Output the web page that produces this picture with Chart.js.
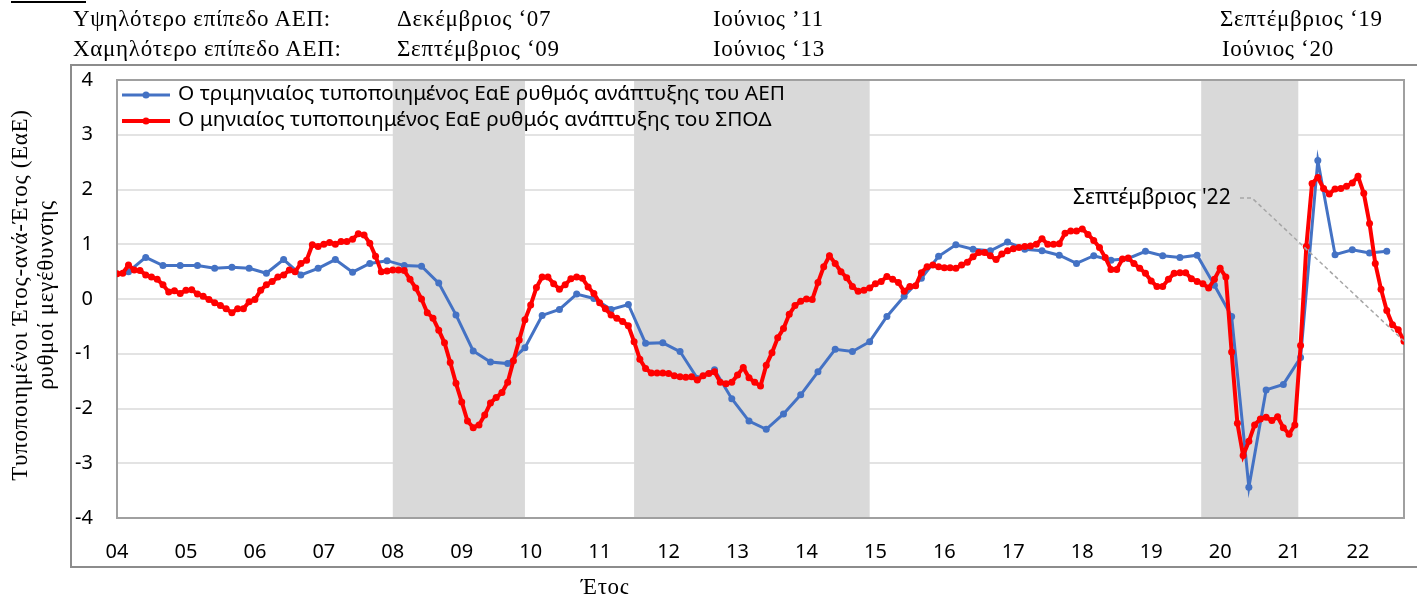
<!DOCTYPE html>
<html lang="el">
<head>
<meta charset="utf-8">
<title>ΑΕΠ και ΣΠΟΔ</title>
<script src="https://cdn.jsdelivr.net/npm/chart.js@4.4.1/dist/chart.umd.min.js"></script>
<style>
html, body { margin: 0; padding: 0; background: #fff; }
#wrap { position: relative; width: 1417px; height: 594px; overflow: hidden; }
#chart { position: absolute; left: 0; top: 0; }
.serif { position: absolute; font-family: "Liberation Serif", "DejaVu Serif", serif; font-size: 23px; letter-spacing: 0.7px; color: #000; white-space: nowrap; line-height: 1; }
.sans { position: absolute; font-family: "Noto Sans", sans-serif; font-size: 21px; color: #000; white-space: nowrap; line-height: 1; }
#ytitle { left: 33px; top: 295px; width: 480px; text-align: center; line-height: 26px; transform: translate(-50%, -50%) rotate(-90deg); }
#topline { position: absolute; left: 11px; top: 1px; width: 75px; height: 2px; background: #000; }
</style>
</head>
<body>
<div id="wrap">
  <canvas id="chart" width="1417" height="594"></canvas>
  <div id="topline"></div>
  <div class="serif" style="left:73px; top:7px;">Υψηλότερο επίπεδο ΑΕΠ:</div>
  <div class="serif" style="left:397px; top:7px;">Δεκέμβριος ‘07</div>
  <div class="serif" style="left:713px; top:7px;">Ιούνιος ’11</div>
  <div class="serif" style="left:1220px; top:7px;">Σεπτέμβριος ‘19</div>
  <div class="serif" style="left:73px; top:37px;">Χαμηλότερο επίπεδο ΑΕΠ:</div>
  <div class="serif" style="left:397px; top:37px;">Σεπτέμβριος ‘09</div>
  <div class="serif" style="left:713px; top:37px;">Ιούνιος ‘13</div>
  <div class="serif" style="left:1222px; top:37px;">Ιούνιος ‘20</div>
  <div class="serif" id="ytitle">Τυποποιημένοι Έτος-ανά-Έτος (ΕαΕ)<br>ρυθμοί μεγέθυνσης</div>
  <div class="serif" style="left:581px; top:575px;">Έτος</div>
  <div class="sans" style="left:1073px; top:186px;">Σεπτέμβριος '22</div>
</div>
<script>
"use strict";

// Year labels on the x axis (one tick every 12 months, starting Jan 2004)
const yearLabels = ["04", "05", "06", "07", "08", "09", "10", "11", "12", "13",
                    "14", "15", "16", "17", "18", "19", "20", "21", "22"];

// Quarterly standardised YoY GDP growth, Mar 2004 .. Jun 2022
const quarterlyGdp = [
    0.50, 0.76, 0.61, 0.61,
    0.61, 0.56, 0.58, 0.56,
    0.47, 0.72, 0.44, 0.56,
    0.72, 0.49, 0.65, 0.70,
    0.61, 0.60, 0.29, -0.29,
    -0.95, -1.15, -1.18, -0.89,
    -0.30, -0.19, 0.09, 0.01,
    -0.19, -0.10, -0.81, -0.80,
    -0.96, -1.45, -1.29, -1.82,
    -2.23, -2.38, -2.10, -1.75,
    -1.33, -0.92, -0.96, -0.78,
    -0.32, 0.05, 0.38, 0.78,
    0.99, 0.91, 0.88, 1.04,
    0.91, 0.88, 0.80, 0.65,
    0.79, 0.71, 0.74, 0.87,
    0.79, 0.76, 0.80, 0.25,
    -0.32, -3.44, -1.66, -1.56,
    -1.07, 2.53, 0.81, 0.90,
    0.84, 0.87
];

// Monthly standardised YoY growth of the composite index (ΣΠΟΔ), Jan 2004 .. Sep 2022
const monthlySpod = [
    0.46, 0.47, 0.62, 0.53, 0.52, 0.44, 0.40, 0.36, 0.26, 0.13, 0.15, 0.10,
    0.16, 0.17, 0.09, 0.05, -0.01, -0.07, -0.12, -0.18, -0.25, -0.18, -0.18, -0.05,
    -0.01, 0.16, 0.26, 0.32, 0.40, 0.44, 0.53, 0.50, 0.65, 0.71, 0.99, 0.96,
    1.00, 1.03, 1.00, 1.05, 1.05, 1.09, 1.19, 1.17, 1.02, 0.78, 0.50, 0.51,
    0.53, 0.53, 0.52, 0.36, 0.20, 0.00, -0.25, -0.35, -0.57, -0.80, -1.16, -1.54,
    -1.88, -2.23, -2.35, -2.30, -2.12, -1.90, -1.80, -1.71, -1.52, -1.13, -0.75, -0.38,
    -0.11, 0.21, 0.40, 0.40, 0.28, 0.18, 0.26, 0.37, 0.40, 0.38, 0.22, 0.10,
    -0.07, -0.18, -0.29, -0.35, -0.41, -0.49, -0.78, -1.10, -1.27, -1.35, -1.35, -1.35,
    -1.36, -1.40, -1.42, -1.43, -1.42, -1.48, -1.40, -1.36, -1.33, -1.52, -1.55, -1.52,
    -1.39, -1.25, -1.44, -1.52, -1.59, -1.21, -0.98, -0.71, -0.54, -0.28, -0.12, -0.04,
    0.00, -0.01, 0.30, 0.59, 0.79, 0.65, 0.50, 0.39, 0.23, 0.14, 0.16, 0.20,
    0.28, 0.32, 0.41, 0.36, 0.30, 0.14, 0.23, 0.24, 0.48, 0.59, 0.62, 0.59,
    0.57, 0.57, 0.56, 0.62, 0.67, 0.77, 0.85, 0.85, 0.79, 0.72, 0.82, 0.88,
    0.92, 0.94, 0.96, 0.97, 1.00, 1.10, 1.00, 1.00, 1.01, 1.20, 1.24, 1.24,
    1.28, 1.18, 1.07, 0.94, 0.76, 0.54, 0.54, 0.73, 0.75, 0.65, 0.56, 0.47,
    0.33, 0.23, 0.23, 0.36, 0.47, 0.48, 0.48, 0.37, 0.32, 0.28, 0.20, 0.36,
    0.56, 0.40, -0.97, -2.27, -2.86, -2.60, -2.30, -2.19, -2.16, -2.22, -2.15, -2.35,
    -2.47, -2.30, -0.85, 0.96, 2.11, 2.22, 2.02, 1.92, 2.01, 2.02, 2.06, 2.12,
    2.24, 1.93, 1.38, 0.65, 0.18, -0.21, -0.47, -0.56, -0.77
];

// Recession periods (shaded), in months since Jan 2004
const recessions = [[48, 71], [90, 131], [188.7, 205.6]];

const seriesNames = [
    "Ο τριμηνιαίος τυποποιημένος ΕαΕ ρυθμός ανάπτυξης του ΑΕΠ",
    "Ο μηνιαίος τυποποιημένος ΕαΕ ρυθμός ανάπτυξης του ΣΠΟΔ"
];

const BLUE = "#4472C4";
const RED = "#FF0000";
const SANS = '"Noto Sans", sans-serif';

// shading, frame, legend and the leader line of the annotation
const decorations = {
    id: "decorations",
    beforeDraw(chart) {
        const ctx = chart.ctx;
        ctx.save();
        ctx.strokeStyle = "#8c8c8c";
        ctx.lineWidth = 2;
        ctx.strokeRect(71, 65, 1400, 502);
        ctx.restore();
    },
    beforeDatasetsDraw(chart) {
        const { ctx, chartArea: a, scales: { x } } = chart;
        ctx.save();
        ctx.fillStyle = "#d9d9d9";
        recessions.forEach(([s, e]) => {
            const x0 = x.getPixelForValue(s);
            const x1 = x.getPixelForValue(e);
            ctx.fillRect(x0, a.top, x1 - x0, a.bottom - a.top);
        });
        ctx.strokeStyle = "#a0a0a0";
        ctx.lineWidth = 2;
        ctx.strokeRect(a.left, a.top, a.right - a.left, a.bottom - a.top);
        ctx.restore();
    },
    afterDatasetsDraw(chart) {
        const { ctx, scales: { x, y } } = chart;
        ctx.save();

        // leader line "Σεπτέμβριος '22" -> last monthly point
        const last = monthlySpod.length - 1;
        ctx.strokeStyle = "#a6a6a6";
        ctx.lineWidth = 1.5;
        ctx.setLineDash([4, 3]);
        ctx.beginPath();
        ctx.moveTo(1240, 198);
        ctx.lineTo(1252, 198);
        ctx.lineTo(x.getPixelForValue(last), y.getPixelForValue(monthlySpod[last]));
        ctx.stroke();
        ctx.setLineDash([]);

        // legend (line + marker like the spreadsheet legend)
        chart.data.datasets.forEach((ds, i) => {
            const ly = 95 + i * 26;
            ctx.strokeStyle = ds.borderColor;
            ctx.lineWidth = ds.borderWidth;
            ctx.beginPath();
            ctx.moveTo(122, ly);
            ctx.lineTo(170, ly);
            ctx.stroke();
            ctx.fillStyle = ds.borderColor;
            ctx.beginPath();
            ctx.arc(146, ly, ds.pointRadius, 0, Math.PI * 2);
            ctx.fill();
            ctx.fillStyle = "#000";
            ctx.font = "20.8px " + SANS;
            ctx.textBaseline = "middle";
            ctx.fillText(ds.label, 178, ly - 1);
        });
        ctx.restore();
    }
};

const ctx = document.getElementById("chart").getContext("2d");
new Chart(ctx, {
    type: "line",
    data: {
        datasets: [
            {
                label: seriesNames[0],
                data: quarterlyGdp.map((v, i) => ({ x: 2 + 3 * i, y: v })),
                borderColor: BLUE, backgroundColor: BLUE,
                borderWidth: 3, pointRadius: 3.5, pointBorderWidth: 0,
                order: 1
            },
            {
                label: seriesNames[1],
                data: monthlySpod.map((v, i) => ({ x: i, y: v })),
                borderColor: RED, backgroundColor: RED,
                borderWidth: 4, pointRadius: 3.5, pointBorderWidth: 0,
                order: 0
            }
        ]
    },
    options: {
        responsive: false,
        animation: false,
        layout: { padding: { left: 0, top: 80, right: 13, bottom: 0 } },
        elements: { line: { tension: 0 } },
        plugins: { legend: { display: false }, tooltip: { enabled: false } },
        scales: {
            x: {
                type: "linear",
                min: 0,
                max: monthlySpod.length - 1,
                afterBuildTicks: (s) => { s.ticks = yearLabels.map((_, i) => ({ value: i * 12 })); },
                afterFit: (s) => { s.height = 76; },
                grid: { display: false, drawTicks: false },
                border: { display: false },
                ticks: {
                    autoSkip: false, maxRotation: 0, padding: 22, color: "#000",
                    font: { family: SANS, size: 20 },
                    callback: (v) => yearLabels[Math.round(v / 12)]
                }
            },
            y: {
                min: -4,
                max: 4,
                afterFit: (s) => { s.width = 117; },
                grid: { color: "#e3e3e3", lineWidth: 2, drawTicks: false },
                border: { display: false },
                ticks: {
                    stepSize: 1, padding: 24, color: "#000",
                    font: { family: SANS, size: 20 }
                }
            }
        }
    },
    plugins: [decorations]
});
</script>
</body>
</html>
